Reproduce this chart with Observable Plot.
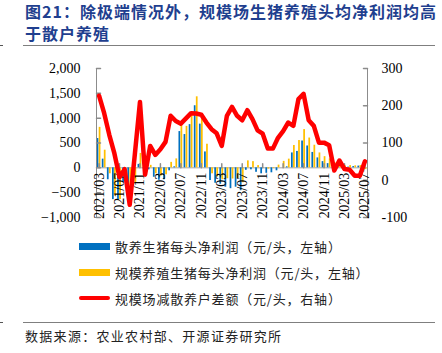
<!DOCTYPE html>
<html><head><meta charset="utf-8">
<script src="https://cdn.jsdelivr.net/npm/d3@7"></script>
<script src="https://cdn.jsdelivr.net/npm/@observablehq/plot@0.6"></script>
<style>
body{margin:0;width:442px;height:353px;position:relative;background:#fff;overflow:hidden;font-family:"Noto Sans CJK SC",sans-serif}
#title{position:absolute;left:25px;top:0;width:420px;font-size:16px;line-height:22px;font-weight:bold;color:#1f3f8f;letter-spacing:1px}
.rule{position:absolute;left:23px;width:412px;height:0;border-top:1px solid #7f7f7f}
.mini{position:absolute;left:0;width:3px;height:0;border-top:1px solid #555}
#chart{position:absolute;left:0;top:50px}
#legend{position:absolute;left:79px;top:233px}
.row{display:flex;align-items:center;height:26px;font-size:13px;letter-spacing:0.8px;color:#222;white-space:nowrap}
.sw{width:31px;margin-right:5px}
#source{position:absolute;left:25px;top:327px;font-size:13px;line-height:18px;letter-spacing:1.3px;color:#222;white-space:nowrap}
</style></head><body>
<div id="title">图21：除极端情况外，规模场生猪养殖头均净利润均高于散户养殖</div>
<div class="mini" style="top:45px"></div>
<div class="rule" style="top:45px"></div>
<div id="chart"></div>
<div id="legend"></div>
<div class="mini" style="top:322px"></div>
<div class="rule" style="top:322px"></div>
<div id="source">数据来源：农业农村部、开源证券研究所</div>
<script>
const months = ["2021/03","2021/04","2021/05","2021/06","2021/07","2021/08","2021/09","2021/10","2021/11","2021/12",
"2022/01","2022/02","2022/03","2022/04","2022/05","2022/06","2022/07","2022/08","2022/09","2022/10","2022/11","2022/12",
"2023/01","2023/02","2023/03","2023/04","2023/05","2023/06","2023/07","2023/08","2023/09","2023/10","2023/11","2023/12",
"2024/01","2024/02","2024/03","2024/04","2024/05","2024/06","2024/07","2024/08","2024/09","2024/10","2024/11","2024/12",
"2025/01","2025/02","2025/03","2025/04","2025/05","2025/06","2025/07"];
const sanyang = [590,175,-240,-640,-650,-300,-560,-380,70,-20,-40,-190,-250,-240,-60,20,730,670,870,1250,880,320,
-255,-310,-330,-390,-420,-390,-460,-50,-40,-90,-120,-110,-100,-60,0,20,300,330,540,440,310,200,125,85,75,20,10,15,25,35,-85];
const guimo = [815,355,-120,-570,-640,-270,-625,-310,290,0,50,-120,-165,-140,110,180,885,835,1050,1430,1055,475,
-120,-185,-240,-220,-225,-215,-300,140,125,45,5,-25,-15,55,130,175,450,550,770,600,455,300,225,180,100,75,40,45,40,45,-35];
const chaE = [227,180,122,72,8,30,-66,70,210,15,92,68,83,103,173,159,152,166,180,179,176,155,137,126,92,173,197,173,161,188,
164,134,125,85,85,114,132,155,146,218,232,161,146,101,101,94,26,53,30,28,12,12,51];
const xTickLabels = ["2021/03","2021/07","2021/11","2022/03","2022/07","2022/11","2023/03","2023/07","2023/11","2024/03","2024/07","2024/11","2025/03","2025/07"];
const leftTicks = [-1000,-500,0,500,1000,1500,2000];
const rightTicks = [-100,0,100,200,300];
const seriesNames = ["散养生猪每头净利润（元/头，左轴）","规模养殖生猪每头净利润（元/头，左轴）","规模场减散养户差额（元/头，右轴）"];
const colors = ["#0070c0","#ffc000","#ff0000"];

const leftDomain = [leftTicks[0], leftTicks[leftTicks.length-1]];
const rightDomain = [rightTicks[0], rightTicks[rightTicks.length-1]];
const k = (leftDomain[1]-leftDomain[0])/(rightDomain[1]-rightDomain[0]);
const toLeft = v => leftDomain[0] + (v - rightDomain[0]) * k;
const fromLeft = v => rightDomain[0] + (v - leftDomain[0]) / k;

const n = months.length;
const data = months.map((m,i)=>({i, m, b: sanyang[i], g: guimo[i], r: chaE[i]}));
const xDomain = [-0.5, n-0.5];
const tickIdx = xTickLabels.map(l => months.indexOf(l));
const axisGray = "#8c8c8c";
const hTick = dir => ({draw(ctx, l){ctx.moveTo(0,0); ctx.lineTo(dir*l,0);}});
const vTick = {draw(ctx, l){ctx.moveTo(0,0); ctx.lineTo(0,-l);}};

const chart = Plot.plot({
  width: 442, height: 180,
  marginLeft: 96, marginRight: 75, marginTop: 18, marginBottom: 13,
  x: {type: "linear", domain: xDomain, axis: null},
  y: {domain: leftDomain, axis: null},
  style: {fontFamily: "'Liberation Serif','Times New Roman',serif", fontSize: "14px", color: "#000", background: "transparent"},
  marks: [
    Plot.ruleY([0], {stroke: "#a6a6a6"}),
    Plot.rect(data, {x1: d => d.i - 0.37, x2: d => d.i - 0.03, y1: 0, y2: "b", fill: colors[0]}),
    Plot.rect(data, {x1: d => d.i + 0.03, x2: d => d.i + 0.37, y1: 0, y2: "g", fill: colors[1]}),
    Plot.ruleX(xDomain, {stroke: axisGray}),
    Plot.vector(leftTicks, {x: xDomain[0], y: d => d, length: 4, rotate: 0, anchor: "start", shape: hTick(1), stroke: axisGray}),
    Plot.vector(rightTicks, {x: xDomain[1], y: d => toLeft(d), length: 4, rotate: 0, anchor: "start", shape: hTick(-1), stroke: axisGray}),
    Plot.axisY({anchor: "left", ticks: leftTicks, tickFormat: d3.format(","), tickSize: 0, tickPadding: 16}),
    Plot.axisY({anchor: "right", ticks: rightTicks.map(toLeft), tickFormat: v => String(Math.round(fromLeft(v))), tickSize: 0, tickPadding: 14}),
    Plot.vector(tickIdx, {x: d => d, y: 0, length: 4, rotate: 0, anchor: "start", shape: vTick, stroke: axisGray}),
    Plot.text(tickIdx, {x: d => d, y: 0, text: d => months[d], rotate: -90, textAnchor: "end", dy: 5, fill: "#000"}),
    Plot.line(data, {x: "i", y: d => toLeft(d.r), stroke: colors[2], strokeWidth: 4.5, strokeLinejoin: "round", strokeLinecap: "round"})
  ]
});
document.getElementById("chart").appendChild(chart);

const legend = document.getElementById("legend");
seriesNames.forEach((name, j) => {
  const row = document.createElement("div");
  row.className = "row";
  const sw = document.createElement("div");
  sw.className = "sw";
  sw.style.height = j < 2 ? "7px" : "4px";
  sw.style.background = colors[j];
  if (j === 2) sw.style.borderRadius = "2px";
  const t = document.createElement("span");
  t.textContent = name;
  row.appendChild(sw); row.appendChild(t);
  legend.appendChild(row);
});
</script>
</body></html>
